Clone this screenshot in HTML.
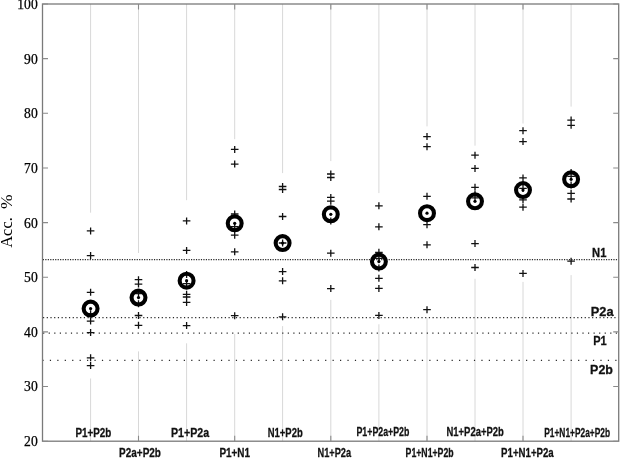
<!DOCTYPE html>
<html><head><meta charset="utf-8"><style>
html,body{margin:0;padding:0;background:#fff;width:620px;height:458px;overflow:hidden}
svg{display:block;filter:grayscale(1)}

</style></head><body>
<svg width="620" height="458" viewBox="0 0 620 458">
<rect width="620" height="458" fill="#fff"/>
<path d="M90.6 4V212.7M90.6 378.5V441.2M138.5 4V253M138.5 351.4V441.2M186.6 4V200.2M186.6 343.3V441.2M234.7 4V139.2M234.7 334V441.2M282.6 4V173.1M282.6 326.1V441.2M330.8 4V161.1M330.8 299.9V441.2M378.9 4V193.1M378.9 324.3V441.2M427 4V126.4M427 318.2V441.2M475 4V145.7M475 278.8V441.2M523 4V123.5M523 281.9V441.2M571.1 4V106.6M571.1 275.1V441.2" stroke="#d8d8d8" stroke-width="1" fill="none"/>
<line x1="42.8" y1="259.5" x2="618.7" y2="259.5" stroke="#2a2a2a" stroke-width="1.25" stroke-dasharray="1.2 1.27"/>
<line x1="43" y1="317.7" x2="618.7" y2="317.7" stroke="#2a2a2a" stroke-width="1.25" stroke-dasharray="1.2 2.51"/>
<line x1="43.1" y1="333.2" x2="618.7" y2="333.2" stroke="#2a2a2a" stroke-width="1.25" stroke-dasharray="1.2 4.36"/>
<line x1="42.4" y1="360.3" x2="618.7" y2="360.3" stroke="#2a2a2a" stroke-width="1.25" stroke-dasharray="1.2 6.24"/>
<rect x="42.5" y="4" width="576.2" height="437.2" fill="none" stroke="#7a7a7a" stroke-width="1.3"/>
<path d="M42.5 4H48M618.7 4H613.2M42.5 58.65H48M618.7 58.65H613.2M42.5 113.3H48M618.7 113.3H613.2M42.5 167.95H48M618.7 167.95H613.2M42.5 222.6H48M618.7 222.6H613.2M42.5 277.25H48M618.7 277.25H613.2M42.5 331.9H48M618.7 331.9H613.2M42.5 386.55H48M618.7 386.55H613.2M42.5 441.2H48M618.7 441.2H613.2M138.5 4V9.5M138.5 441.2V435.7M234.7 4V9.5M234.7 441.2V435.7M330.8 4V9.5M330.8 441.2V435.7M427 4V9.5M427 441.2V435.7M523 4V9.5M523 441.2V435.7" stroke="#8a8a8a" stroke-width="1.1" fill="none"/>
<path d="M86.8 230.9H94.4M90.6 227.4V234.4M86.8 255.6H94.4M90.6 252.1V259.1M86.8 292.3H94.4M90.6 288.8V295.8M86.8 313.8H94.4M90.6 310.3V317.3M86.8 321.1H94.4M90.6 317.6V324.6M86.8 332.6H94.4M90.6 329.1V336.1M86.8 357.8H94.4M90.6 354.3V361.3M86.8 365.6H94.4M90.6 362.1V369.1M134.7 279.7H142.3M138.5 276.2V283.2M134.7 284.1H142.3M138.5 280.6V287.6M134.7 293.5H142.3M138.5 290V297M134.7 303.8H142.3M138.5 300.3V307.3M134.7 315.5H142.3M138.5 312V319M134.7 325.3H142.3M138.5 321.8V328.8M182.8 220.9H190.4M186.6 217.4V224.4M182.8 250.4H190.4M186.6 246.9V253.9M182.8 274.4H190.4M186.6 270.9V277.9M182.8 283.7H190.4M186.6 280.2V287.2M182.8 294.3H190.4M186.6 290.8V297.8M182.8 297H190.4M186.6 293.5V300.5M182.8 302.4H190.4M186.6 298.9V305.9M182.8 325.6H190.4M186.6 322.1V329.1M230.9 149.4H238.5M234.7 145.9V152.9M230.9 164.1H238.5M234.7 160.6V167.6M230.9 214H238.5M234.7 210.5V217.5M230.9 226.6H238.5M234.7 223.1V230.1M230.9 235.2H238.5M234.7 231.7V238.7M230.9 251.8H238.5M234.7 248.3V255.3M230.9 315.7H238.5M234.7 312.2V319.2M278.8 186.5H286.4M282.6 183V190M278.8 189.5H286.4M282.6 186V193M278.8 216.5H286.4M282.6 213V220M278.8 243H286.4M282.6 239.5V246.5M278.8 271.6H286.4M282.6 268.1V275.1M278.8 280.8H286.4M282.6 277.3V284.3M278.8 316.8H286.4M282.6 313.3V320.3M327 174H334.6M330.8 170.5V177.5M327 177.5H334.6M330.8 174V181M327 197.4H334.6M330.8 193.9V200.9M327 201.2H334.6M330.8 197.7V204.7M327 221H334.6M330.8 217.5V224.5M327 253.2H334.6M330.8 249.7V256.7M327 288.6H334.6M330.8 285.1V292.1M375.1 205.8H382.7M378.9 202.3V209.3M375.1 226.8H382.7M378.9 223.3V230.3M375.1 252.3H382.7M378.9 248.8V255.8M375.1 258.4H382.7M378.9 254.9V261.9M375.1 268H382.7M378.9 264.5V271.5M375.1 278.3H382.7M378.9 274.8V281.8M375.1 288.4H382.7M378.9 284.9V291.9M375.1 315.4H382.7M378.9 311.9V318.9M423.2 136.6H430.8M427 133.1V140.1M423.2 146.7H430.8M427 143.2V150.2M423.2 196.3H430.8M427 192.8V199.8M423.2 224.7H430.8M427 221.2V228.2M423.2 244.8H430.8M427 241.3V248.3M423.2 309.7H430.8M427 306.2V313.2M471.2 155.2H478.8M475 151.7V158.7M471.2 168.4H478.8M475 164.9V171.9M471.2 187.3H478.8M475 183.8V190.8M471.2 194.5H478.8M475 191V198M471.2 197.9H478.8M475 194.4V201.4M471.2 243.6H478.8M475 240.1V247.1M471.2 267.5H478.8M475 264V271M519.2 130.7H526.8M523 127.2V134.2M519.2 141.6H526.8M523 138.1V145.1M519.2 177.9H526.8M523 174.4V181.4M519.2 188.4H526.8M523 184.9V191.9M519.2 199.8H526.8M523 196.3V203.3M519.2 207.2H526.8M523 203.7V210.7M519.2 273.4H526.8M523 269.9V276.9M567.3 120.1H574.9M571.1 116.6V123.6M567.3 125.3H574.9M571.1 121.8V128.8M567.3 172.5H574.9M571.1 169V176M567.3 176.3H574.9M571.1 172.8V179.8M567.3 185H574.9M571.1 181.5V188.5M567.3 193.3H574.9M571.1 189.8V196.8M567.3 199H574.9M571.1 195.5V202.5M567.3 261.2H574.9M571.1 257.7V264.7" stroke="#111" stroke-width="1.3" fill="none"/>
<circle cx="90.6" cy="308.6" r="6.95" fill="none" stroke="#000" stroke-width="4.1"/>
<circle cx="90.6" cy="308.6" r="1.6" fill="#000"/>
<circle cx="138.5" cy="297.6" r="6.95" fill="none" stroke="#000" stroke-width="4.1"/>
<circle cx="138.5" cy="297.6" r="1.6" fill="#000"/>
<circle cx="186.6" cy="280.7" r="6.95" fill="none" stroke="#000" stroke-width="4.1"/>
<circle cx="186.6" cy="280.7" r="1.6" fill="#000"/>
<circle cx="234.7" cy="223.3" r="6.95" fill="none" stroke="#000" stroke-width="4.1"/>
<circle cx="234.7" cy="223.3" r="1.6" fill="#000"/>
<circle cx="282.6" cy="243.1" r="6.95" fill="none" stroke="#000" stroke-width="4.1"/>
<circle cx="282.6" cy="243.1" r="1.6" fill="#000"/>
<circle cx="330.8" cy="214.3" r="6.95" fill="none" stroke="#000" stroke-width="4.1"/>
<circle cx="330.8" cy="214.3" r="1.6" fill="#000"/>
<circle cx="378.9" cy="261.6" r="6.95" fill="none" stroke="#000" stroke-width="4.1"/>
<circle cx="378.9" cy="261.6" r="1.6" fill="#000"/>
<circle cx="427" cy="213.2" r="6.95" fill="none" stroke="#000" stroke-width="4.1"/>
<circle cx="427" cy="213.2" r="1.6" fill="#000"/>
<circle cx="475" cy="201.3" r="6.95" fill="none" stroke="#000" stroke-width="4.1"/>
<circle cx="475" cy="201.3" r="1.6" fill="#000"/>
<circle cx="523" cy="190.1" r="6.95" fill="none" stroke="#000" stroke-width="4.1"/>
<circle cx="523" cy="190.1" r="1.6" fill="#000"/>
<circle cx="571.1" cy="179.3" r="6.95" fill="none" stroke="#000" stroke-width="4.1"/>
<circle cx="571.1" cy="179.3" r="1.6" fill="#000"/>
<g font-family="'Liberation Serif', serif" font-size="13.6" fill="#000" stroke="#000" stroke-width="0.25"><text x="37.7" y="8.9" text-anchor="end">100</text><text x="37.7" y="63.55" text-anchor="end">90</text><text x="37.7" y="118.2" text-anchor="end">80</text><text x="37.7" y="172.85" text-anchor="end">70</text><text x="37.7" y="227.5" text-anchor="end">60</text><text x="37.7" y="282.15" text-anchor="end">50</text><text x="37.7" y="336.8" text-anchor="end">40</text><text x="37.7" y="391.45" text-anchor="end">30</text><text x="37.7" y="446.1" text-anchor="end">20</text></g>
<g font-family="'Liberation Serif', serif" font-size="16.5" fill="#000">
<text transform="translate(12.0 247.8) rotate(-90)">Acc.</text>
<text transform="translate(12.0 209.0) rotate(-90)" font-size="17.5">%</text>
</g>
<g font-family="'Liberation Sans', sans-serif" font-weight="bold" font-size="13.3" fill="#111" stroke="#111" stroke-width="0.3"><text x="75.4" y="436.8" textLength="35.9" lengthAdjust="spacingAndGlyphs">P1+P2b</text><text x="171" y="436.6" textLength="38.1" lengthAdjust="spacingAndGlyphs">P1+P2a</text><text x="267.7" y="436.7" textLength="35" lengthAdjust="spacingAndGlyphs">N1+P2b</text><text x="356.5" y="436" textLength="52.8" lengthAdjust="spacingAndGlyphs">P1+P2a+P2b</text><text x="446.5" y="436" textLength="57.3" lengthAdjust="spacingAndGlyphs">N1+P2a+P2b</text><text x="544.2" y="436.5" textLength="65.9" lengthAdjust="spacingAndGlyphs">P1+N1+P2a+P2b</text><text x="119.1" y="457.3" textLength="41.8" lengthAdjust="spacingAndGlyphs">P2a+P2b</text><text x="219.4" y="457.3" textLength="30.7" lengthAdjust="spacingAndGlyphs">P1+N1</text><text x="317.5" y="457.3" textLength="33.6" lengthAdjust="spacingAndGlyphs">N1+P2a</text><text x="405.6" y="457.3" textLength="48" lengthAdjust="spacingAndGlyphs">P1+N1+P2b</text><text x="501.1" y="457.3" textLength="52.6" lengthAdjust="spacingAndGlyphs">P1+N1+P2a</text><text x="592.1" y="257.4" textLength="14.3" lengthAdjust="spacingAndGlyphs">N1</text><text x="590.8" y="316.3" textLength="22.8" lengthAdjust="spacingAndGlyphs">P2a</text><text x="593.2" y="344.9" textLength="13.5" lengthAdjust="spacingAndGlyphs">P1</text><text x="590.1" y="374.1" textLength="22.8" lengthAdjust="spacingAndGlyphs">P2b</text></g>
</svg>
</body></html>
